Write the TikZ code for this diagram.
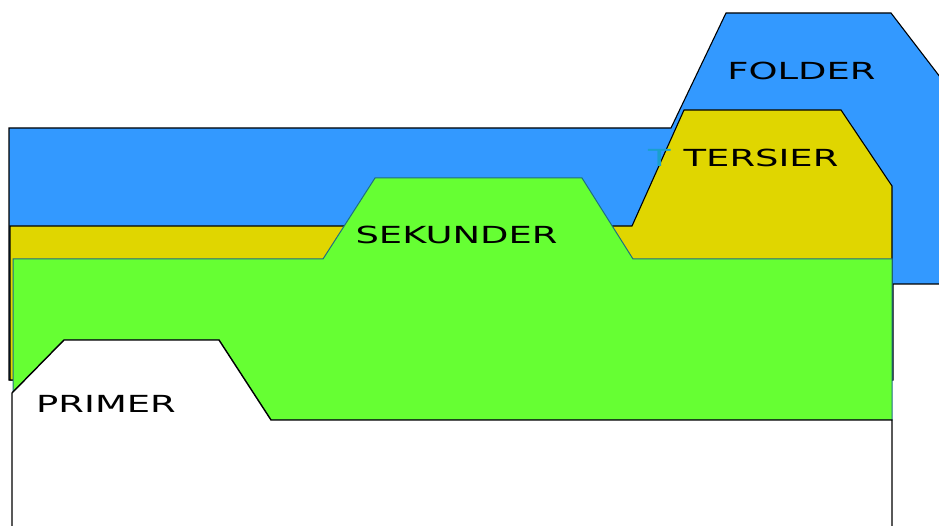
\documentclass[tikz,border=0pt]{standalone}
\usepackage{fontspec}
\setmainfont{DejaVu Sans}
\definecolor{fblue}{RGB}{51,153,255}
\definecolor{fyellow}{RGB}{224,214,0}
\definecolor{fgreen}{RGB}{102,255,51}
\definecolor{fteal}{RGB}{30,110,130}
\definecolor{fcyan}{RGB}{25,160,205}
\begin{document}
\begin{tikzpicture}[x=1pt,y=-1pt,
  lbl/.style={font=\fontsize{23.5}{23.5}\selectfont, xscale=1.57, inner sep=0pt, text=black},
  tab/.style={line width=1.1pt, line join=miter}]
\useasboundingbox (0,0) rectangle (939,526);
\clip (0,0) rectangle (939,526);
% FOLDER (blue)
\draw[tab, fill=fblue, draw=black] (9,380) -- (9,128) -- (671,128) -- (726,13) -- (891,13)
  -- (950,90) -- (950,284) -- (893,284) -- (893,380) -- cycle;
% TERSIER (yellow)
\draw[tab, fill=fyellow, draw=black] (10,380) -- (10,226) -- (632,226) -- (684,110) -- (841,110)
  -- (892,186) -- (892,380) -- cycle;
% SEKUNDER (green)
\draw[line width=1pt, fill=fgreen, draw=fteal] (13,392) -- (13,259) -- (323,259) -- (375,178)
  -- (582,178) -- (633,259) -- (892,259) -- (892,420) -- (271,420) -- (219,340) -- (64,340) -- cycle;
% PRIMER (white)
\draw[line width=1.4pt, fill=white, draw=black] (12,545) -- (12,393) -- (64,340) -- (219,340)
  -- (271,420) -- (892,420) -- (892,545) -- cycle;
% labels
\node[lbl] (folder) at (801.5,70.5) {FOLDER};
\node[lbl] (tersier) at (761,157.5) {TERSIER};
\node[lbl, text=fcyan] (tmark) at (659.5,157.5) {T};
\node[lbl] (sekunder) at (456.5,235) {SEKUNDER};
\node[lbl] (primer) at (106,403.5) {PRIMER};
\end{tikzpicture}
\end{document}
